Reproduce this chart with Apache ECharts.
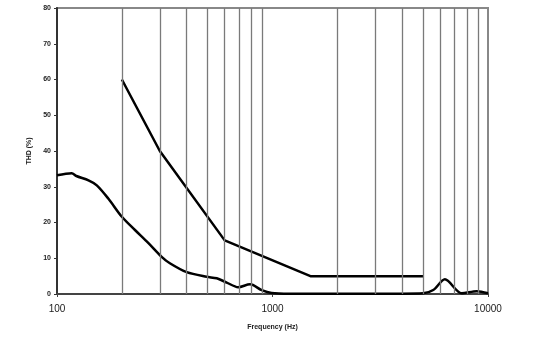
<!DOCTYPE html>
<html>
<head>
<meta charset="utf-8">
<script src="https://cdn.jsdelivr.net/npm/echarts@6/dist/echarts.min.js"></script>
<style>html,body{margin:0;padding:0;background:#fff}#c{width:537px;height:337px}</style>
</head>
<body>
<div id="c"></div>
<script>
// Upper (straight) curve: frequency (Hz), THD (%)
const upperFreq = [200, 300, 600, 1500, 5000];
const upperTHD  = [60, 40, 15, 5, 5];

// Lower (measured) curve
const lowerFreq = [100, 117, 123, 140, 153, 173, 200, 230, 265, 306, 334, 400, 495, 551, 613, 693, 787, 891, 990, 1200, 2000, 3000, 4000, 5000, 5570, 6310, 7550, 8870, 10000];
const lowerTHD  = [33.2, 33.8, 33.0, 31.8, 30.4, 26.7, 21.6, 17.9, 14.3, 10.4, 8.6, 6.1, 4.8, 4.4, 3.2, 1.9, 2.7, 1.1, 0.3, 0.1, 0.1, 0.1, 0.1, 0.2, 1.1, 4.1, 0.2, 0.8, 0.2];

// Vertical grid lines (minor decades)
const gridFreqs = [200, 300, 400, 500, 600, 700, 800, 900, 2000, 3000, 4000, 5000, 6000, 7000, 8000, 9000];

const yTicks = { min: 0, max: 80, interval: 10 };
const xRange = { min: 100, max: 10000 };

const chart = echarts.init(document.getElementById('c'), null, { renderer: 'canvas' });
const font = 'Liberation Sans, Arial, sans-serif';

chart.setOption({
  animation: false,
  backgroundColor: '#fff',
  grid: { left: 57, right: 49, top: 8, bottom: 43, show: true, borderColor: '#888', borderWidth: 2, backgroundColor: 'transparent' },
  xAxis: {
    type: 'log', logBase: 10, min: xRange.min, max: xRange.max,
    name: 'Frequency (Hz)', nameLocation: 'middle', nameGap: 30,
    nameTextStyle: { fontFamily: font, fontSize: 7, fontWeight: 'bold', color: '#222' },
    axisLine: { show: true, lineStyle: { color: '#444', width: 2 } },
    axisTick: { show: true, length: 3, lineStyle: { color: '#444' } },
    axisLabel: { fontFamily: font, fontSize: 10, color: '#222', margin: 10, formatter: v => String(Math.round(v)) },
    splitLine: { show: false }
  },
  yAxis: {
    type: 'value', min: yTicks.min, max: yTicks.max, interval: yTicks.interval,
    name: 'THD (%)', nameLocation: 'middle', nameGap: 22,
    nameTextStyle: { fontFamily: font, fontSize: 7, fontWeight: 'bold', color: '#222' },
    axisLine: { show: true, lineStyle: { color: '#333', width: 2 } },
    axisTick: { show: true, length: 3, lineStyle: { color: '#333' } },
    axisLabel: { fontFamily: font, fontSize: 7, fontWeight: 'bold', color: '#222', margin: 6 },
    splitLine: { show: false }
  },
  series: [
    {
      type: 'line', data: [], silent: true,
      markLine: {
        silent: true, symbol: ['none', 'none'], label: { show: false },
        lineStyle: { color: '#7a7a7a', width: 1.3, type: 'solid' },
        data: gridFreqs.map(f => ({ xAxis: f }))
      }
    },
    {
      type: 'line', showSymbol: false, symbol: 'none',
      lineStyle: { color: '#000', width: 2.5 },
      data: upperFreq.map((f, i) => [f, upperTHD[i]])
    },
    {
      type: 'line', showSymbol: false, symbol: 'none', smooth: 0.3,
      lineStyle: { color: '#000', width: 2.5 },
      data: lowerFreq.map((f, i) => [f, lowerTHD[i]])
    }
  ]
});
</script>
</body>
</html>
